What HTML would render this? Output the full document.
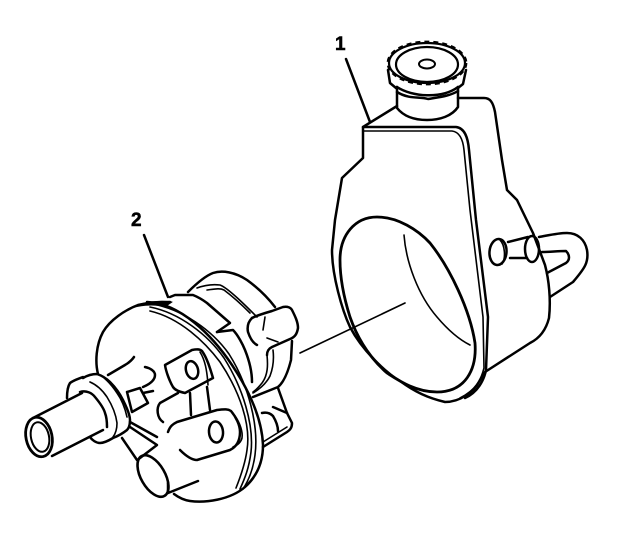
<!DOCTYPE html>
<html><head><meta charset="utf-8"><style>
html,body{margin:0;padding:0;background:#fff}
svg{display:block}
path,ellipse{fill:none;stroke:#000;stroke-width:2.5;stroke-linecap:round;stroke-linejoin:round}
.t{stroke-width:1.6}
.b{stroke-width:3}
text{font-family:"Liberation Sans",sans-serif;font-weight:bold;font-size:19px;fill:#000;stroke:#000;stroke-width:.5}
</style></head><body>
<svg width="640" height="550" viewBox="0 0 640 550" xmlns="http://www.w3.org/2000/svg">
<rect width="640" height="550" fill="#fff"/>
<text x="335" y="50">1</text>
<text x="131" y="226">2</text>

<!-- leaders -->
<path d="M346 59L370 122"/>
<path d="M144 235L168 297"/>
<path class="t" d="M300 353L405 303"/>

<!-- reservoir -->
<path d="M397 106L363 127L363 158L342 178L335 220L332 250C332 275 342 310 350 327C362 350 385 372 400 381C415 392 428 398 445 402C460 402 474 392 480 380L485 372L530 343C540 338 546 330 549 318C551 300 549 280 545 265L533 233L517 200L507 190L502 160L495 112C493 102 490 98 484 98L458 98"/>
<path d="M363 127L456 127C465 128 468 138 469 150L476 220L488 317L486 370C484 380 478 392 465 398"/>
<path class="t" d="M363 131L452 131C460 132 463 140 464 150L470 210L483 317L484 368C481 380 476 390 460 398"/>
<path d="M340 260C340 235 355 217 377 217C398 217 418 230 430 243C450 268 470 310 475 343C477 370 465 392 437 392C415 392 398 380 387 373C370 358 358 340 350 317C344 298 340 280 340 260Z" style="stroke-width:2.8"/>
<path class="t" d="M404 235C406 262 418 295 437 317C448 330 460 340 470 345"/>

<!-- cap -->
<ellipse cx="427" cy="63" rx="38" ry="20" style="stroke-width:2.2"/>
<ellipse cx="427" cy="63" rx="39.5" ry="21.5" style="stroke-width:1.8;stroke-linecap:butt" stroke-dasharray="5 4"/>
<ellipse cx="427" cy="64.5" rx="31" ry="17.5" style="stroke-width:2.2"/>
<ellipse cx="427" cy="64" rx="8" ry="4.5" style="stroke-width:2"/>
<path d="M388 70L390 83L396 88"/>
<path d="M466 70L463 84L458 88"/>
<path d="M397 87C412 97 442 99 458 87"/>
<path d="M397 92C410 100 420 96 428 99C440 97 450 96 458 91"/>
<path d="M397 87L397 108C405 118 417 120 427 120C440 120 452 116 458 107L458 87"/>

<!-- tube and hose -->
<ellipse cx="498" cy="252" rx="8.5" ry="13" transform="rotate(5 498 252)"/>
<path class="t" d="M500 240C505 245 506 258 502 264"/>
<path d="M508 242L528 237"/>
<path d="M510 258L527 258"/>
<ellipse cx="532" cy="249" rx="7" ry="13"/>
<path d="M539 237C550 235 558 233 567 233C578 233 585 240 587 250C589 262 585 268 573 282L550 297"/>
<path d="M542 252C550 252 558 251 566 251C570 255 570 260 566 263L547 273"/>

<!-- pump: back housing -->
<path d="M188 292C195 285 205 276 213 273C222 270 235 272 247 280C258 288 268 298 275 307"/>
<path class="t" d="M197 288C205 285 212 284 220 285C228 288 245 305 257 317"/>
<path class="t" d="M207 290C215 289 220 288 224 290C232 296 242 305 250 313"/>
<path d="M170 297L175 295L193 295C198 297 203 300 207 303L230 323L217 332"/>
<path d="M217 332L233 330C238 335 243 345 245 350C249 360 252 370 252 382"/>
<path d="M252 318C258 315 265 313 272 311L283 307C288 306 291 308 292 310C295 316 298 322 298 328C297 334 295 337 290 339L272 347C268 349 267 352 267 355"/>
<path d="M252 318C248 322 247 327 248 332C250 338 253 343 257 345"/>
<path class="t" d="M265 317L263 330"/>
<path class="t" d="M267 338L278 342"/>
<path d="M292 341L291 360C288 372 284 382 278 387L253 397"/>
<path class="t" d="M273 350C274 358 273 368 270 376C266 384 258 390 253 393"/>
<path class="t" d="M267 355C268 365 268 375 262 383C258 388 256 390 253 392"/>
<path d="M278 388L287 413L292 423C292 428 290 430 287 432L263 447"/>
<path class="t" d="M263 442L287 427"/>
<path d="M273 407L287 413"/>
<path d="M262 413C267 412 270 413 273 416C276 421 278 426 278 431"/>

<!-- pulley -->
<path d="M98 374C95 362 96 345 103 332C110 320 125 310 138 305C150 302 160 302 170 302"/>
<path d="M128 309C140 302 160 300 172 302L166 306C150 304 140 305 128 309Z" style="fill:#000;stroke-width:1"/>
<path class="t" d="M150 311C180 318 205 342 220 362C240 392 251 425 247 450C245 465 240 478 236 488"/>
<path class="t" d="M150 307C180 313 208 335 224 358C243 388 254 425 251 452C249 468 245 478 240 489"/>
<path class="t" d="M152 304C182 309 212 330 229 354C248 384 259 425 255 455C253 470 249 480 243 489"/>
<path d="M147 302C180 303 212 335 232 365C250 392 262 420 263 445C263 465 255 478 245 487C230 500 205 503 190 501C183 500 178 497 174 494"/>

<!-- bosses -->
<path d="M165 365L192 350C197 349 200 349 202 351C207 358 210 368 213 378L185 393C180 392 175 390 173 387C170 382 166 372 165 365Z"/>
<ellipse cx="192" cy="370" rx="6" ry="9" transform="rotate(-15 192 370)"/>
<path class="t" d="M200 352C205 360 207 370 208 385"/>
<path d="M190 393L191 415"/>
<path d="M207 387L210 410"/>
<path d="M178 393L160 403C156 408 157 418 163 422"/>
<path d="M168 432C170 426 173 424 177 422L217 410C225 409 228 409 231 411C236 417 240 425 240 432C240 441 236 447 230 450L197 460C192 460 187 457 180 450"/>
<ellipse cx="216" cy="432" rx="7" ry="10.5" transform="rotate(-5 216 432)"/>
<path class="t" d="M235 416C240 423 243 432 242 438C241 442 238 445 233 447"/>

<!-- lower port -->
<ellipse cx="153" cy="476" rx="12" ry="23" transform="rotate(-30 153 476)" style="stroke-width:2.6"/>
<path d="M168 483L168 493L198 481"/>
<path d="M140 458L157 445L130 427"/>
<path d="M130 422L157 437"/>
<path d="M122 438L137 460"/>

<!-- centre details -->
<path d="M108 375L125 365C130 362 132 360 134 357"/>
<path d="M145 367C150 368 155 371 155 375C155 380 150 384 143 387"/>
<path d="M127 392L140 388L148 403L132 412Z"/>
<path d="M143 393L153 391"/>

<!-- input shaft -->
<ellipse cx="39" cy="437" rx="13" ry="20" transform="rotate(-12 39 437)" style="stroke-width:2.8"/>
<ellipse cx="40" cy="437" rx="9" ry="15" transform="rotate(-12 40 437)" style="stroke-width:2"/>
<path d="M33 418L82 393"/>
<path d="M52 456L103 430"/>
<path d="M83 378C88 375 92 374 97 374C103 376 108 380 110 382C116 388 120 394 123 400C127 408 130 416 130 420C130 425 129 428 127 430C122 434 118 436 113 438C108 441 104 443 100 443C96 443 92 440 90 437"/>
<path d="M67 398C67 390 68 386 70 383C74 380 78 379 83 377"/>
<path d="M80 392C86 390 92 393 95 397C100 403 104 409 105 413C107 418 107 424 107 427"/>
<path class="t" d="M90 382C97 385 103 391 107 397C112 405 116 415 117 423C117 428 116 433 113 437"/>
<path class="t" d="M100 375C108 380 113 387 117 393C122 400 125 408 127 417"/>
</svg>
</body></html>
